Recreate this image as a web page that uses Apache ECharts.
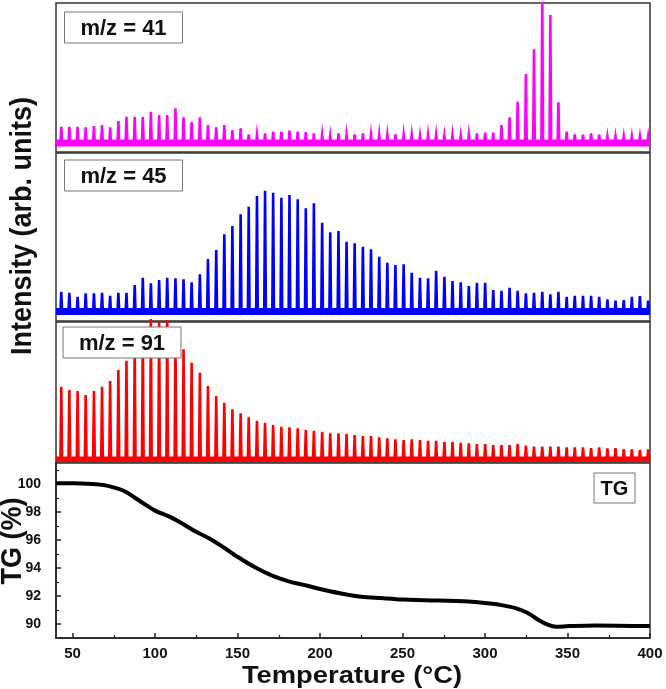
<!DOCTYPE html>
<html><head><meta charset="utf-8">
<script src="https://cdn.jsdelivr.net/npm/echarts@6/dist/echarts.min.js"></script>
<style>html,body{margin:0;padding:0;background:#fff}#c{width:666px;height:689px}</style>
</head><body><div id="c"></div>
<script>
// Temperatures (°C) of the periodic MS scan peaks
const spikeTemps = [43.2,48.1,53.1,58.0,63.0,67.9,72.8,77.8,82.7,87.7,92.6,97.5,102.5,107.4,112.4,117.3,122.2,127.2,132.1,137.1,142.0,146.9,151.9,156.8,161.8,166.7,171.6,176.6,181.5,186.5,191.4,196.3,201.3,206.2,211.2,216.1,221.0,226.0,230.9,235.9,240.8,245.7,250.7,255.6,260.6,265.5,270.4,275.4,280.3,285.3,290.2,295.1,300.1,305.0,310.0,314.9,319.8,324.8,329.7,334.7,339.6,344.5,349.5,354.4,359.4,364.3,369.2,374.2,379.1,384.1,389.0,393.9,398.9];
// Peak intensities (arb. units)
const mz41 = [25.3,25.3,25.3,24.7,26,27,24.7,31,35.3,35.3,35.3,40.3,37,37,43.7,34.7,30.3,34.7,27,24.7,27,22,
  23.7,17.7,17,18.7,20.3,20.3,21.3,20.3,20,18.7,17,16,18.7,17,17.7,18.7,17,17,16.7,17.7,17,16.7,16,16.7,16.7,16,16.7,16,17,
  18.7,19.3,19.3,27,34.7,50.3,78,102.7,155,137,49.7,20.3,17.7,17.3,18.7,17.3,15.3,15.3,15.3,15.3,15.3,15.3];
const mz45 = [29.3,28.3,24.3,27.7,27.7,28.3,25.3,28.3,28.3,36,43.3,37.7,41,43.3,42.7,41.7,38.7,46.7,62,71,86.7,95,106.7,114.3,125,130.3,128.3,123.3,126,121.7,112.7,117.7,98.3,88.7,90,79.3,77.7,74.3,71.7,64.3,58.3,56,56.7,48.3,43.3,42.7,50.3,44.3,40,38.7,35,38.3,38.3,31,30.3,33.3,30.3,27.7,28.3,29.3,26.7,29.3,24.3,25.3,25.3,25.3,24.3,21.7,20.3,21,24.3,25,20.3];
const mz91 = [75.3,72,71,67,71,75.3,81,92,101.3,114,128,143,141,142,122,112.7,99.3,89.3,76,66,59.3,52.7,48.7,44.7,41.3,39.3,37,35.3,34.7,33.7,32,31.3,30.3,28.7,28.7,28,27,26,26,24.7,23.7,22.7,22,22.7,22,21.3,21.3,20.3,20.3,19.3,18.7,18,18,17,17,17,18,16.3,15.3,15.3,15.3,15.3,14.7,14.7,14.7,14,14.7,13.7,14,13,12.7,12,12.7];
const baseLevels = [9, 9.5, 3];
// TG curve
const tgTemp = [40,50,62,70,78,83,88,94.5,100,109,117,124.6,132.4,140,150,160.6,171,181,191.7,200,212,225,237,250,264,290,300,310,318,325.6,333,338,343,351,367,400];
const tgVal  = [100.05,100.05,100.0,99.9,99.65,99.4,99.0,98.5,98.1,97.65,97.15,96.6,96.15,95.6,94.8,94.05,93.45,93.05,92.75,92.5,92.2,91.95,91.85,91.75,91.7,91.6,91.5,91.35,91.15,90.8,90.25,89.95,89.8,89.85,89.9,89.85];
const xMajor = [50,100,150,200,250,300,350,400];
const xMinor = [75,125,175,225,275,325,375];
const yMajor = [90,92,94,96,98,100];
const yMinor = [91,93,95,97,99,101];
const labels = ['m/z = 41','m/z = 45','m/z = 91','TG'];

const FF = '"Liberation Sans", Arial, sans-serif';
function spikeData(vals, base){
  const d=[[40,base]];
  spikeTemps.forEach((t,i)=>{ d.push([t-0.5,base],[t,vals[i]],[t+0.5,base]); });
  d.push([400,base]);
  return d;
}
const chart = echarts.init(document.getElementById('c'), null, {renderer:'canvas'});
const L=56, W=594;
const gridBase = {left:L, width:W, show:true, borderColor:'#333', borderWidth:1.5, backgroundColor:'transparent'};
const grids = [
  Object.assign({top:3,height:149}, gridBase),
  Object.assign({top:153,height:168}, gridBase),
  Object.assign({top:322,height:140}, gridBase),
  Object.assign({top:463,height:175}, gridBase)
];
const hidX = i => ({gridIndex:i,type:'value',min:40,max:400,show:false,splitLine:{show:false}});
const yMax = [149,168,140];
const colors = ['#ff00ff','#0000ff','#ff0000'];
const series=[];
[mz41,mz45,mz91].forEach((v,i)=>{
  series.push({type:'line',xAxisIndex:i,yAxisIndex:i,data:[[40,baseLevels[i]],[400,baseLevels[i]]],showSymbol:false,silent:true,
    lineStyle:{color:colors[i],width:[7,7,5][i]},z:2});
  series.push({type:'line',xAxisIndex:i,yAxisIndex:i,data:spikeData(v,baseLevels[i]),showSymbol:false,silent:true,
    clip: i!==2, lineStyle:{color:colors[i],width:2.6,join:'miter'},z:3});
});
series.push({type:'line',xAxisIndex:3,yAxisIndex:3,data:tgTemp.map((t,i)=>[t,tgVal[i]]),showSymbol:false,smooth:0.3,
  lineStyle:{color:'#000',width:4}});

function labelBox(x,y,w,h,txt,fs){
  return [{type:'rect',shape:{x:x,y:y,width:w,height:h},style:{fill:'#fff',stroke:'#777',lineWidth:1},z:100},
          {type:'text',x:x+w/2,y:y+h/2+1,style:{text:txt,align:'center',verticalAlign:'middle',font:'bold '+fs+'px '+FF,fill:'#111'},z:101}];
}
const graphics = [].concat(
  labelBox(64.5,12,118,31,labels[0],22),
  labelBox(64.5,160,118,31,labels[1],22),
  labelBox(63,327,118,31,labels[2],22),
  labelBox(594,473,41,30,labels[3],20),
  [{type:'text',x:23,y:226,rotation:Math.PI/2,scaleY:1.06,style:{text:'Intensity (arb. units)',align:'center',verticalAlign:'middle',font:'bold 27px '+FF,fill:'#111'},z:100},
   {type:'text',x:13,y:541,rotation:Math.PI/2,scaleY:1.08,style:{text:'TG (%)',align:'center',verticalAlign:'middle',font:'bold 27px '+FF,fill:'#111'},z:100},
   {type:'text',x:352,y:676,scaleX:1.14,style:{text:'Temperature (°C)',align:'center',verticalAlign:'middle',font:'bold 24px '+FF,fill:'#111'},z:100}]
);

chart.setOption({
  animation:false,
  grid:grids,
  xAxis:[hidX(0),hidX(1),hidX(2),
    {gridIndex:3,type:'value',position:'bottom',min:40,max:400,splitLine:{show:false},
     axisLine:{show:true,onZero:false,lineStyle:{color:'#222',width:1.5}},
     axisTick:{show:true,inside:true,length:5,customValues:xMajor,lineStyle:{color:'#222',width:1.5}},
     axisLabel:{show:true,customValues:xMajor,fontSize:15,fontWeight:'bold',fontFamily:FF,color:'#111',margin:8}},
    {gridIndex:3,type:'value',position:'bottom',min:40,max:400,splitLine:{show:false},
     axisLine:{show:false},
     axisTick:{show:true,inside:true,length:3,customValues:xMinor,lineStyle:{color:'#222',width:1.2}},
     axisLabel:{show:false}}
  ],
  yAxis:[
    {gridIndex:0,type:'value',min:0,max:yMax[0],show:false,splitLine:{show:false}},
    {gridIndex:1,type:'value',min:0,max:yMax[1],show:false,splitLine:{show:false}},
    {gridIndex:2,type:'value',min:0,max:yMax[2],show:false,splitLine:{show:false}},
    {gridIndex:3,type:'value',position:'left',min:89,max:101.5,splitLine:{show:false},
     axisLine:{show:true,onZero:false,lineStyle:{color:'#222',width:1.5}},
     axisTick:{show:true,inside:true,length:5,customValues:yMajor,lineStyle:{color:'#222',width:1.5}},
     axisLabel:{show:true,customValues:yMajor,fontSize:14,fontWeight:'bold',fontFamily:FF,color:'#111',margin:15}},
    {gridIndex:3,type:'value',position:'left',min:89,max:101.5,splitLine:{show:false},
     axisLine:{show:false},
     axisTick:{show:true,inside:true,length:3,customValues:yMinor,lineStyle:{color:'#222',width:1.2}},
     axisLabel:{show:false}}
  ],
  series:series,
  graphic:{elements:graphics}
});
</script></body></html>
